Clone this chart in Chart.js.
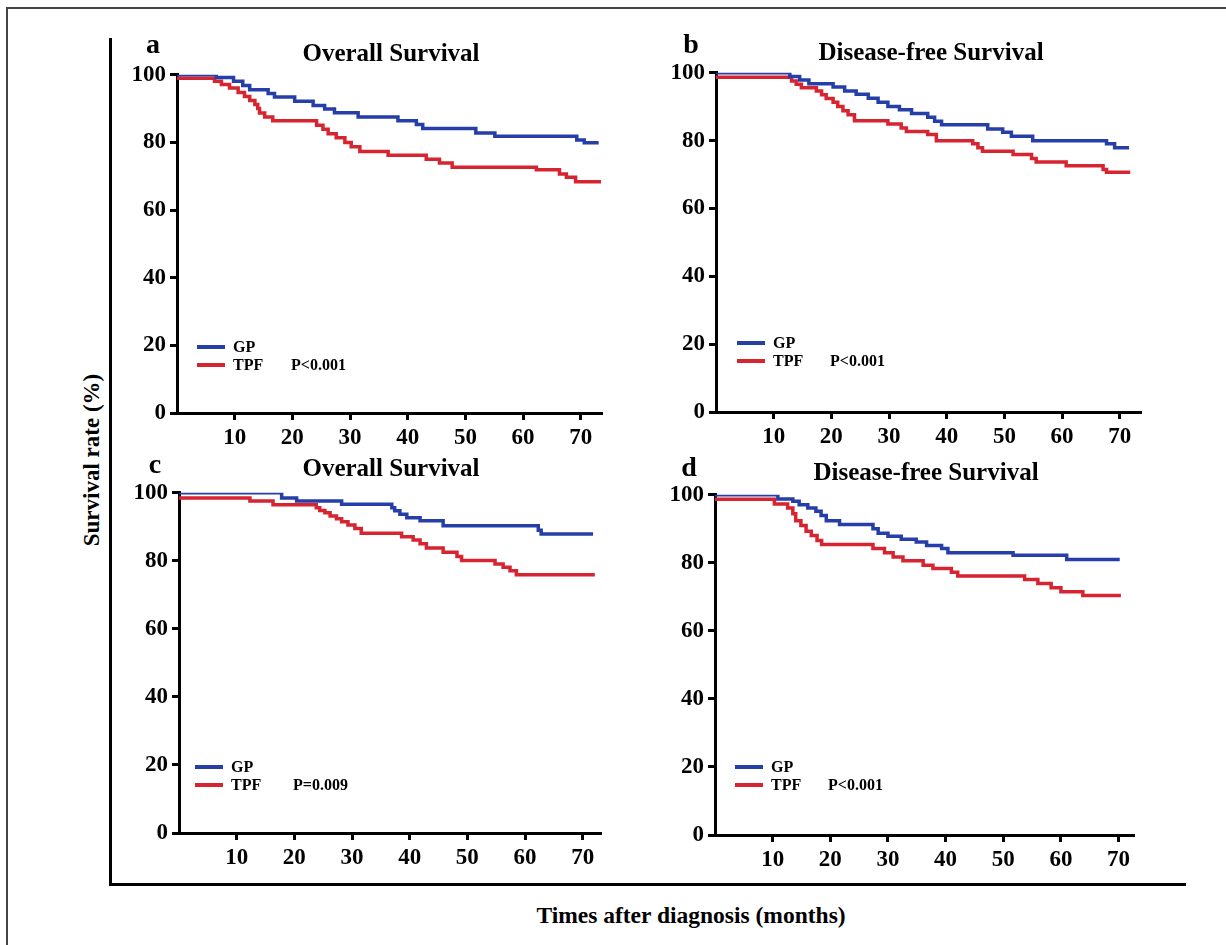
<!DOCTYPE html>
<html>
<head>
<meta charset="utf-8">
<script src="https://cdn.jsdelivr.net/npm/chart.js@4/dist/chart.umd.min.js"></script>
<style>
  body { margin: 0; background: #fff; }
  #page { position: relative; width: 1226px; height: 945px; overflow: hidden; font-family: "Liberation Serif", "Times New Roman", serif; font-weight: bold; color: #000; }
  canvas { position: absolute; }
  .txt { position: absolute; white-space: nowrap; transform: translate(-50%, -50%); }
  .lg { position: absolute; white-space: nowrap; transform: translateY(-50%); font-size: 16px; }
  .sw { position: absolute; height: 4px; width: 28px; }
  .frame { position: absolute; left: 6px; top: 7px; width: 1400px; height: 1100px; border-left: 2px solid #444; border-top: 2px solid #444; }
  .vline { position: absolute; left: 109px; top: 38px; width: 3px; height: 848px; background: #000; }
  .hline { position: absolute; left: 109px; top: 883px; width: 1077px; height: 3px; background: #000; }
</style>
</head>
<body>
<div id="page">
  <div class="frame"></div>
  <div class="vline"></div>
  <div class="hline"></div>
  <div class="txt" style="left:92px;top:460px;font-size:23px;transform:translate(-50%,-50%) rotate(-90deg);">Survival rate (%)</div>
  <div class="txt" style="left:691px;top:915px;font-size:23.5px;">Times after diagnosis (months)</div>
</div>
<script>
// month ticks and survival ticks
const xTicks = [10, 20, 30, 40, 50, 60, 70];
const yTicks = [0, 20, 40, 60, 80, 100];
const groups = ["GP", "TPF"];

// a: overall survival
const aGpTime = [0, 6.8, 9.8, 11.4, 12.6, 15.8, 16.9, 20.4, 23.6, 25.6, 27.3, 31.4, 38.3, 41.5, 42.6, 51.8, 55.1, 69.3, 70.6, 73.1];
const aGpSurv = [100, 99.2, 98.1, 96.8, 95.6, 94.5, 93.4, 92.2, 90.9, 89.9, 88.8, 87.5, 86.4, 85.3, 84.1, 82.8, 81.8, 80.7, 79.9, 79.9];
const aTpfTime = [0, 6.5, 7.7, 9.1, 10.6, 11.7, 12.6, 13.5, 14.0, 14.3, 15.2, 16.6, 24.2, 25.3, 26.2, 27.6, 29.1, 30.2, 31.7, 36.6, 43.2, 45.5, 47.7, 62.3, 66.3, 67.5, 69.1, 73.5];
const aTpfSurv = [99, 98.1, 97.1, 96.1, 94.8, 93.6, 92.4, 91.2, 90.0, 88.7, 87.5, 86.4, 85.1, 83.9, 82.6, 81.4, 80.0, 78.7, 77.3, 76.2, 75.0, 73.9, 72.7, 71.9, 70.7, 69.7, 68.4, 68.4];

// b: disease-free survival
const bGpTime = [0, 12.8, 14.5, 16.1, 20.3, 22.3, 24.3, 26.4, 28.1, 29.8, 31.8, 33.9, 36.7, 37.9, 39.1, 47.1, 49.7, 51.2, 54.9, 67.7, 69.1, 71.6];
const bGpSurv = [100, 98.9, 97.9, 96.8, 95.8, 94.6, 93.7, 92.5, 91.3, 90.1, 89.1, 88.0, 86.9, 85.7, 84.7, 83.4, 82.5, 81.3, 80.0, 79.1, 77.9, 77.9];
const bTpfTime = [0, 13.1, 13.9, 14.8, 17.4, 18.3, 19.1, 20.3, 21.1, 22.0, 22.9, 24.0, 29.8, 32.1, 33.0, 36.7, 38.2, 44.5, 45.4, 46.2, 51.5, 54.7, 55.5, 60.7, 67.1, 67.7, 71.8];
const bTpfSurv = [98.7, 97.6, 96.6, 95.6, 94.6, 93.5, 92.4, 91.3, 90.1, 88.8, 87.6, 85.9, 84.9, 83.7, 82.7, 81.8, 80.0, 79.1, 77.9, 76.9, 75.9, 74.7, 73.7, 72.6, 71.5, 70.7, 70.7];

// c: overall survival
const cGpTime = [0, 17.8, 20.4, 28.2, 36.9, 37.4, 38.3, 39.5, 41.8, 45.8, 62.3, 62.8, 71.8];
const cGpSurv = [100, 98.5, 97.6, 96.6, 95.6, 94.7, 93.7, 92.7, 91.8, 90.3, 89.0, 87.9, 87.9];
const cTpfTime = [0, 12.3, 16.3, 23.8, 24.4, 25.3, 26.2, 27.3, 28.2, 29.3, 30.5, 31.6, 38.6, 40.6, 41.8, 42.9, 45.8, 48.2, 49.0, 54.8, 56.2, 57.4, 58.5, 72.1];
const cTpfSurv = [98.5, 97.6, 96.5, 95.6, 94.8, 94.1, 93.2, 92.4, 91.5, 90.5, 89.5, 88.1, 87.1, 86.1, 85.0, 83.8, 82.5, 81.3, 80.1, 79.1, 78.1, 77.1, 75.9, 75.9];

// d: disease-free survival
const dGpTime = [0, 10.9, 13.5, 14.6, 16.1, 17.5, 18.4, 19.3, 21.6, 27.4, 28.3, 30.0, 32.3, 34.9, 36.7, 39.3, 40.4, 51.7, 61.0, 70.2];
const dGpSurv = [100, 98.8, 98.1, 97.1, 96.1, 95.2, 93.9, 92.4, 91.3, 90.0, 88.7, 87.8, 86.9, 86.1, 85.1, 84.2, 83.0, 82.2, 81.0, 81.0];
const dTpfTime = [0, 10.3, 12.6, 13.5, 14.0, 14.9, 15.8, 16.7, 17.7, 18.5, 27.4, 29.4, 30.9, 32.6, 36.1, 37.8, 41.0, 42.1, 53.7, 56.0, 58.3, 60.0, 63.8, 70.4];
const dTpfSurv = [98.7, 97.3, 96.1, 94.4, 92.4, 91.0, 89.3, 88.0, 86.6, 85.4, 84.2, 83.0, 81.7, 80.6, 79.3, 78.3, 77.2, 76.1, 75.1, 73.9, 72.7, 71.5, 70.4, 70.4];

const panels = [
  { letter: "a", title: "Overall Survival", p: "P<0.001", gp: [aGpTime, aGpSurv], tpf: [aTpfTime, aTpfSurv],
    L: 177, T: 71, B: 413, max: 73.5, titleX: 391, titleY: 53, letX: 153, letY: 44, lgX: 197, lgY: 347, pX: 291 },
  { letter: "b", title: "Disease-free Survival", p: "P<0.001", gp: [bGpTime, bGpSurv], tpf: [bTpfTime, bTpfSurv],
    L: 716, T: 69, B: 412, max: 73.5, titleX: 931, titleY: 52, letX: 691, letY: 44, lgX: 737, lgY: 343, pX: 830 },
  { letter: "c", title: "Overall Survival", p: "P=0.009", gp: [cGpTime, cGpSurv], tpf: [cTpfTime, cTpfSurv],
    L: 179, T: 489, B: 833, max: 73, titleX: 391, titleY: 468, letX: 155, letY: 464, lgX: 195, lgY: 767, pX: 293 },
  { letter: "d", title: "Disease-free Survival", p: "P<0.001", gp: [dGpTime, dGpSurv], tpf: [dTpfTime, dTpfSurv],
    L: 715, T: 491, B: 835, max: 72.5, titleX: 926, titleY: 472, letX: 689, letY: 467, lgX: 735, lgY: 767, pX: 828 },
];

const blue = "rgb(38, 62, 168)";
const red = "rgb(214, 36, 48)";
const pxPerMonth = 5.77;
const tickFont = { family: "Liberation Serif", size: 23, weight: "bold" };
const page = document.getElementById("page");

function pts(arr) {
  return arr[0].map((t, i) => ({ x: t, y: arr[1][i] }));
}

function addText(cls, x, y, text, style) {
  const el = document.createElement("div");
  el.className = cls;
  el.style.left = x + "px";
  el.style.top = y + "px";
  Object.assign(el.style, style || {});
  el.textContent = text;
  page.appendChild(el);
}

panels.forEach((pn) => {
  const R = pn.L + Math.round(pn.max * pxPerMonth);
  const padL = 60, padT = 14, padR = 12, padB = 42;
  const canvas = document.createElement("canvas");
  canvas.width = R - pn.L + padL + padR;
  canvas.height = pn.B - pn.T + padT + padB;
  canvas.style.left = (pn.L - padL) + "px";
  canvas.style.top = (pn.T - padT) + "px";
  page.appendChild(canvas);

  new Chart(canvas, {
    type: "line",
    data: {
      datasets: [
        { label: groups[0], data: pts(pn.gp), borderColor: blue, borderWidth: 3.5, stepped: true, pointRadius: 0, fill: false },
        { label: groups[1], data: pts(pn.tpf), borderColor: red, borderWidth: 3.5, stepped: true, pointRadius: 0, fill: false },
      ],
    },
    options: {
      responsive: false,
      animation: false,
      devicePixelRatio: 1,
      layout: { padding: { top: padT, right: padR, left: 0, bottom: 0 } },
      plugins: { legend: { display: false }, tooltip: { enabled: false } },
      scales: {
        x: {
          type: "linear",
          min: 0,
          max: pn.max,
          afterFit: (s) => { s.height = padB; },
          afterBuildTicks: (s) => { s.ticks = xTicks.map((v) => ({ value: v })); },
          ticks: { font: tickFont, color: "#000", padding: 4, maxRotation: 0 },
          grid: { drawOnChartArea: false, drawTicks: true, tickLength: 7, color: "#000", lineWidth: 3 },
          border: { display: true, color: "#000", width: 3 },
        },
        y: {
          min: 0,
          max: 100,
          afterFit: (s) => { s.width = padL; },
          afterBuildTicks: (s) => { s.ticks = yTicks.map((v) => ({ value: v })); },
          ticks: { font: tickFont, color: "#000", padding: 4 },
          grid: { drawOnChartArea: false, drawTicks: true, tickLength: 7, color: "#000", lineWidth: 3 },
          border: { display: true, color: "#000", width: 3 },
        },
      },
    },
  });

  addText("txt", pn.titleX, pn.titleY, pn.title, { fontSize: "25px" });
  addText("txt", pn.letX, pn.letY, pn.letter, { fontSize: "28px" });

  // legend
  const sw1 = document.createElement("div");
  sw1.className = "sw";
  sw1.style.left = pn.lgX + "px";
  sw1.style.top = (pn.lgY - 2) + "px";
  sw1.style.background = blue;
  page.appendChild(sw1);
  const sw2 = document.createElement("div");
  sw2.className = "sw";
  sw2.style.left = pn.lgX + "px";
  sw2.style.top = (pn.lgY + 16) + "px";
  sw2.style.background = red;
  page.appendChild(sw2);
  addText("lg", pn.lgX + 36, pn.lgY, groups[0]);
  addText("lg", pn.lgX + 36, pn.lgY + 18, groups[1]);
  addText("lg", pn.pX, pn.lgY + 18, pn.p);
});
</script>
</body>
</html>
